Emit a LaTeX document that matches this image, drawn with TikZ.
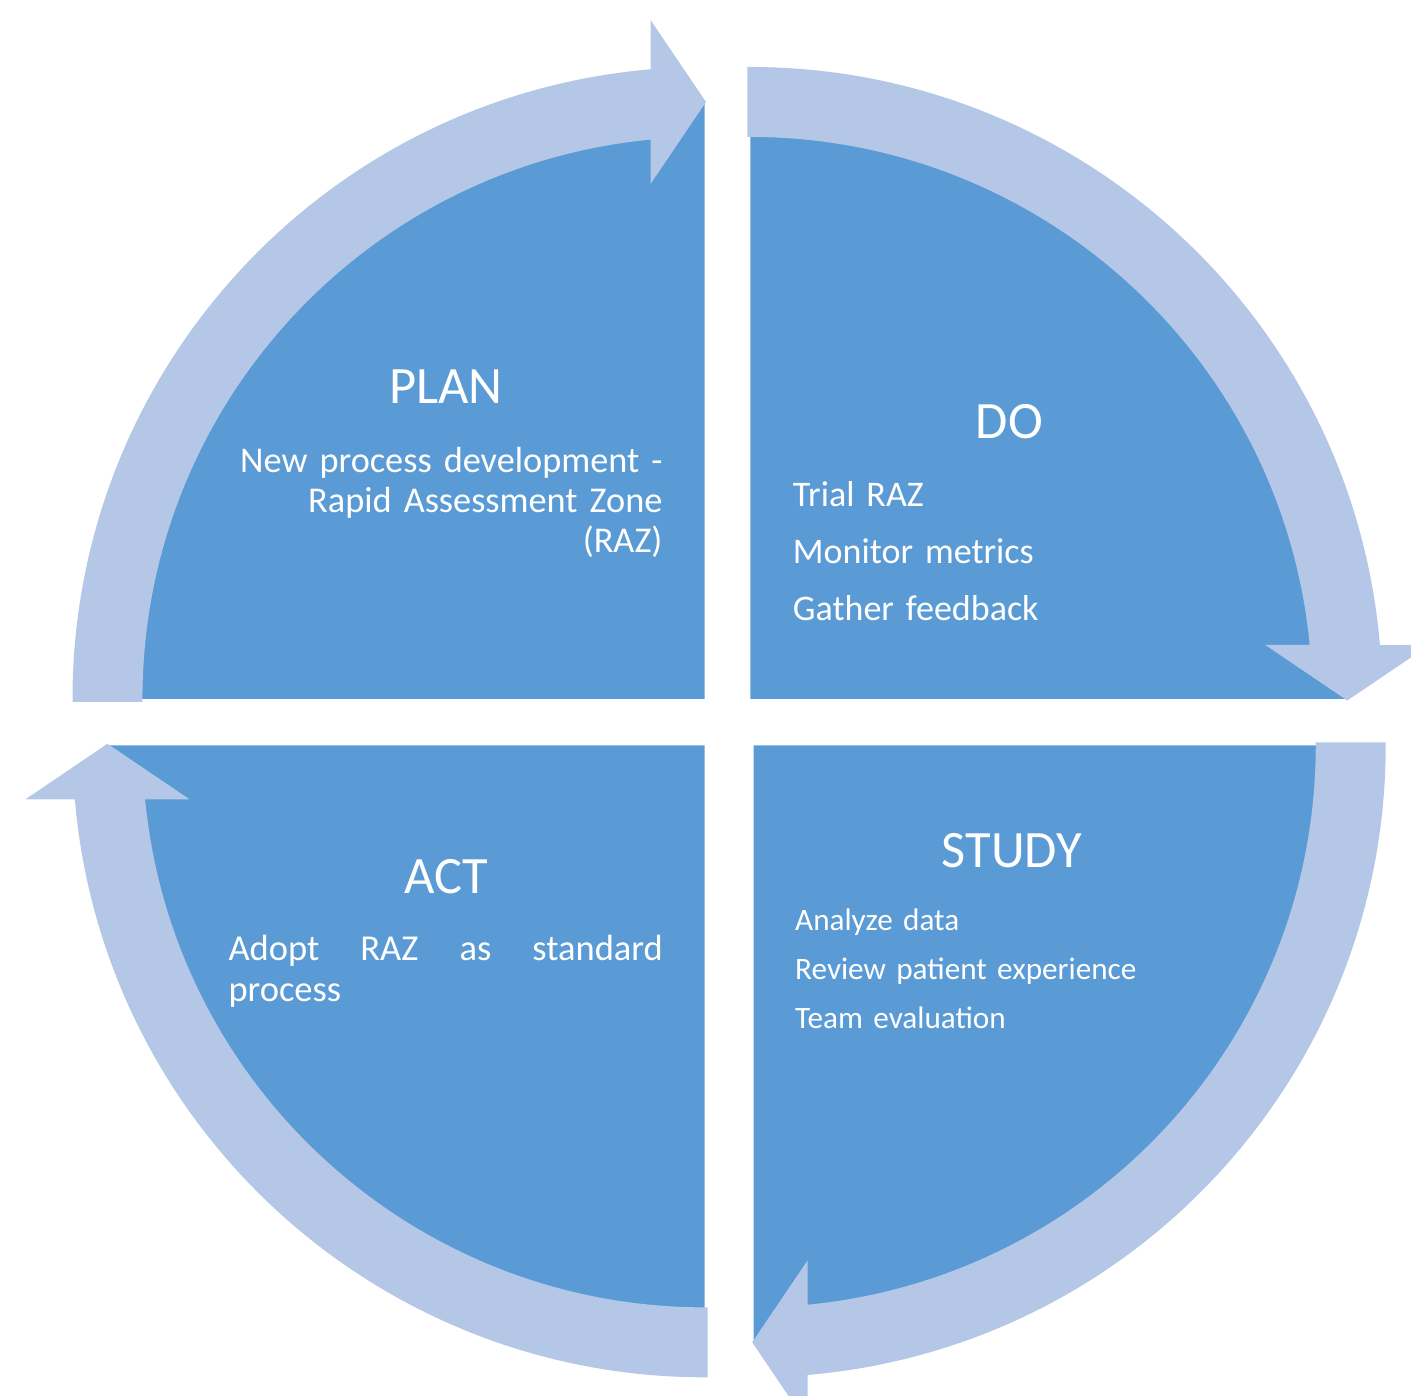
\documentclass[tikz,border=0pt]{standalone}
\usepackage{fontspec}
\setmainfont{Carlito}
\usepackage{xcolor}
\usepackage{tikz}

\definecolor{quadblue}{HTML}{5B9BD5}
\definecolor{bandblue}{HTML}{B4C7E7}

\begin{document}
\begin{tikzpicture}[x=1pt, y=1pt,
  quad/.style={fill=quadblue},
  band/.style={fill=bandblue},
  title/.style={text=white, inner sep=0pt, anchor=base, font=\fontsize{52.5}{60}\selectfont},
  items/.style={text=white, inner sep=0pt, anchor=base west, align=left}
]
  \useasboundingbox (0,0) rectangle (1411,1396);
  \clip (0,0) rectangle (1411,1396);

  % quarter disks: centre x / centre y / turn
  \foreach \cx/\cy/\rot in {704.5/697/0, 750.3/697/-90, 753.7/650.7/-180, 704.5/650.7/-270}{
    \fill[quad, shift={(\cx,\cy)}, rotate=\rot]
      (0,0) -- (180:597) arc[start angle=180, end angle=90, radius=597pt] -- cycle;
  }

  % curved arrows round the rim, on top of the disks
  \foreach \cx/\cy/\rot in {704.5/697/0, 750.3/697/-90, 753.7/650.7/-180, 704.5/650.7/-270}{
    \fill[band, shift={(\cx,\cy)}, rotate=\rot]
      (-632,-3) -- (180:632) arc[start angle=180, end angle=94.9, radius=632pt]
      -- (-54,679) -- (1.5,597) -- (-54,515) -- (-54,559.4)
      arc[start angle=95.51, end angle=180, radius=562pt] -- (-562,-3) -- cycle;
  }

  \node[title] (plan) at (446,992) {PLAN};
  \node[items, anchor=base east, align=right, text width=440pt, font=\fontsize{36.3}{40}\selectfont]
    (planitems) at (662.7,923.3) {New process development -\\Rapid Assessment Zone\\(RAZ)};

  \node[title] (do) at (1009.5,957) {DO};
  \node[items, text width=320pt, font=\fontsize{36}{57}\selectfont]
    (doitems) at (792.7,889.3) {Trial RAZ\\Monitor metrics\\Gather feedback};

  \node[title] (study) at (1011.7,528.3) {STUDY};
  \node[items, text width=420pt, font=\fontsize{31.2}{49}\selectfont]
    (studyitems) at (795,465) {Analyze data\\Review patient experience\\Team evaluation};

  \node[title] (act) at (446,502) {ACT};
  \node[items, text width=434.4pt, font=\fontsize{36.5}{41}\selectfont]
    (actitems) at (228.3,435.3) {Adopt\hfill RAZ\hfill as\hfill standard\\process};
\end{tikzpicture}
\end{document}
